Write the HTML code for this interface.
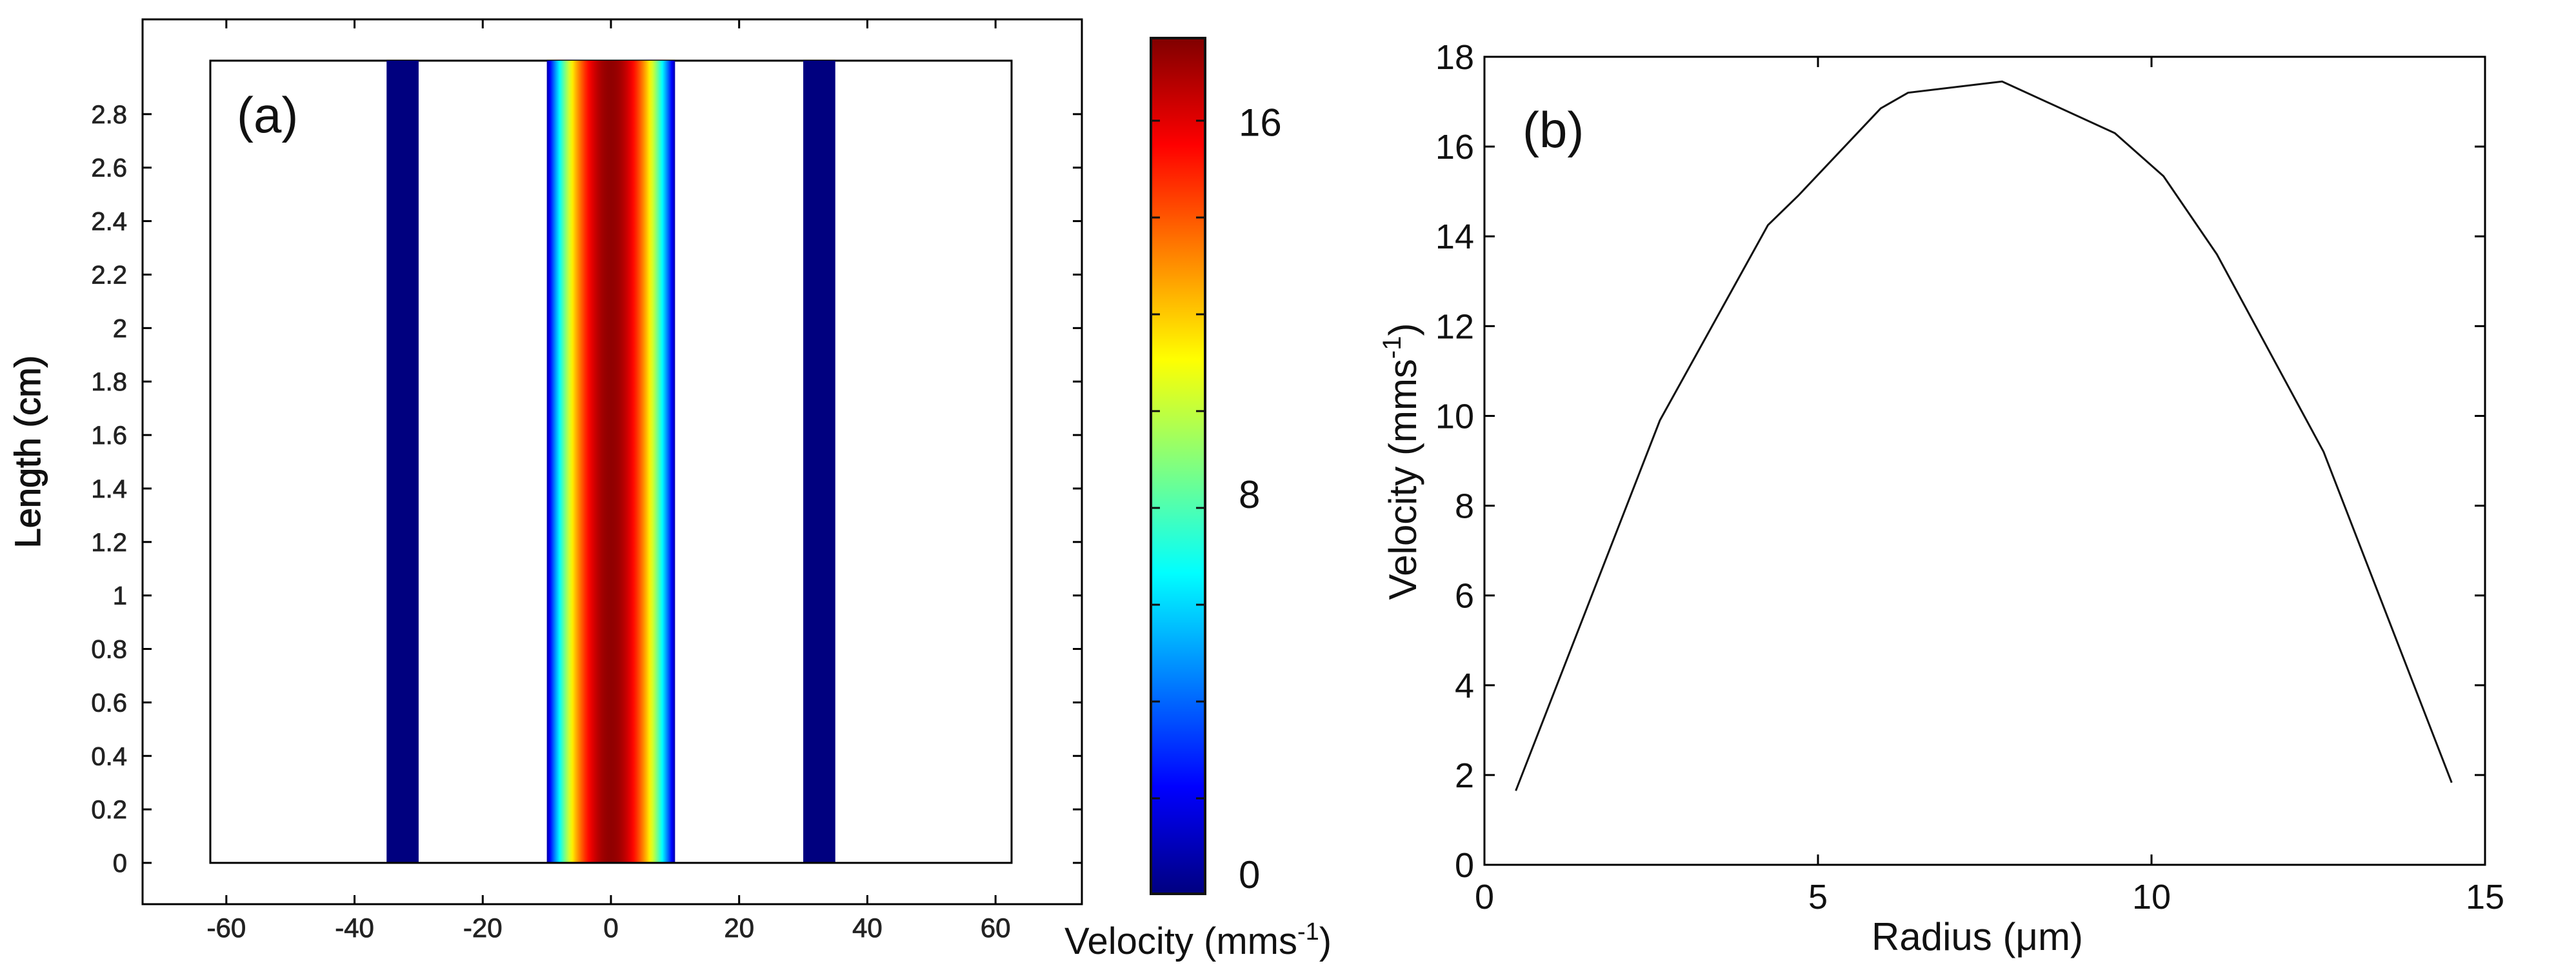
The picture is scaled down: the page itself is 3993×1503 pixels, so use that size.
<!DOCTYPE html>
<html><head><meta charset="utf-8"><style>
html,body{margin:0;padding:0;background:#fff;}
svg{display:block;font-family:"Liberation Sans",sans-serif;}
</style></head><body>
<svg id="fig" width="3993" height="1503" viewBox="0 0 3993 1503" xmlns="http://www.w3.org/2000/svg">
<defs>
<linearGradient id="flowGrad" x1="0" x2="1" y1="0" y2="0"></linearGradient>
<linearGradient id="cbarGrad" x1="0" x2="0" y1="1" y2="0"></linearGradient>
</defs>
<g id="panelA"></g>
<g id="panelB"></g>
</svg>
<script>
// ---- Panel (a) data ----
const aXTicks = [-60, -40, -20, 0, 20, 40, 60];
const aYTicks = [0, 0.2, 0.4, 0.6, 0.8, 1, 1.2, 1.4, 1.6, 1.8, 2, 2.2, 2.4, 2.6, 2.8];
const aDomainX = [-62.5, 62.5];
const aDomainY = [0, 3];
const wallLeft = [-35, -30];
const wallRight = [30, 35];
const channel = [-10, 10];
const peakVelocity = [17.5];
const cbarTicks = [0, 8, 16];
const cbarRange = [-0.6, 17.8];
// ---- Panel (b) data ----
const radius = [0.47, 2.63, 4.25, 4.7, 5.94, 6.35, 7.76, 9.45, 10.18, 10.98, 12.58, 14.5];
const velocity = [1.65, 9.9, 14.25, 14.9, 16.85, 17.2, 17.45, 16.3, 15.34, 13.6, 9.2, 1.83];
const bXTicks = [0, 5, 10, 15];
const bYTicks = [0, 2, 4, 6, 8, 10, 12, 14, 16, 18];

const NS = "http://www.w3.org/2000/svg";
function mk(parent, tag, attrs, text) {
  const e = document.createElementNS(NS, tag);
  for (const k in attrs) e.setAttribute(k, attrs[k]);
  if (text !== undefined) e.textContent = text;
  parent.appendChild(e);
  return e;
}
function jet(t) {
  t = Math.max(0, Math.min(1, t));
  const c = v => Math.round(255 * Math.max(0, Math.min(1, v)));
  const r = 1.5 - Math.abs(4 * t - 3), g = 1.5 - Math.abs(4 * t - 2), b = 1.5 - Math.abs(4 * t - 1);
  return `rgb(${c(r)},${c(g)},${c(b)})`;
}

// ===== Panel A =====
const A = document.getElementById('panelA');
const ax = v => 326 + (v - aDomainX[0]) / (aDomainX[1] - aDomainX[0]) * (1568 - 326);
const ay = v => 1337 - (v - aDomainY[0]) / (aDomainY[1] - aDomainY[0]) * (1337 - 94);
const frameA = {l: 221, r: 1677, t: 30, b: 1401};

let e = mk(A, 'rect', {x: frameA.l, y: frameA.t, width: frameA.r - frameA.l, height: frameA.b - frameA.t, fill: 'none', stroke: '#000', 'stroke-width': 3});



const fg = document.getElementById('flowGrad');
const cv = v => (v - cbarRange[0]) / (cbarRange[1] - cbarRange[0]);
for (let i = 0; i <= 40; i++) {
  const f = i / 40;
  const r = -1 + 2 * f;
  const vel = peakVelocity[0] * (1 - r * r);
  mk(fg, 'stop', {offset: f, 'stop-color': jet(cv(vel))});
}
const cg = document.getElementById('cbarGrad');
for (let i = 0; i <= 40; i++) mk(cg, 'stop', {offset: i / 40, 'stop-color': jet(i / 40)});

e = mk(A, 'rect', {x: ax(aDomainX[0]), y: ay(aDomainY[1]), width: ax(aDomainX[1]) - ax(aDomainX[0]), height: ay(0) - ay(aDomainY[1]), fill: '#fff', stroke: '#000', 'stroke-width': 3});



[[wallLeft, 'wall-left'], [wallRight, 'wall-right']].forEach(([w, n]) => {
  const r = mk(A, 'rect', {x: ax(w[0]), y: ay(aDomainY[1]), width: ax(w[1]) - ax(w[0]), height: ay(0) - ay(aDomainY[1]), fill: '#00007f'});
  
  
});
e = mk(A, 'rect', {x: ax(channel[0]), y: ay(aDomainY[1]), width: ax(channel[1]) - ax(channel[0]), height: ay(0) - ay(aDomainY[1]), fill: 'url(#flowGrad)'});


mk(A, 'line', {x1: ax(aDomainX[0]), x2: ax(aDomainX[1]), y1: ay(0), y2: ay(0), stroke: '#000', 'stroke-width': 3});

aXTicks.forEach(v => {
  const x = ax(v);
  mk(A, 'line', {x1: x, x2: x, y1: frameA.b, y2: frameA.b - 14, stroke: '#000', 'stroke-width': 3});
  mk(A, 'line', {x1: x, x2: x, y1: frameA.t, y2: frameA.t + 14, stroke: '#000', 'stroke-width': 3});
  const t = mk(A, 'text', {x: x, y: 1452, 'font-size': 42, 'text-anchor': 'middle', fill: '#222', stroke: '#222', 'stroke-width': 0.8}, String(v));
  
  
});
aYTicks.forEach(v => {
  const y = ay(v);
  mk(A, 'line', {x1: frameA.l, x2: frameA.l + 14, y1: y, y2: y, stroke: '#000', 'stroke-width': 3});
  mk(A, 'line', {x1: frameA.r, x2: frameA.r - 14, y1: y, y2: y, stroke: '#000', 'stroke-width': 3});
  const t = mk(A, 'text', {x: 197, y: y + 14, 'font-size': 40, 'text-anchor': 'end', fill: '#222', stroke: '#222', 'stroke-width': 0.8}, String(v));
  
  
});
e = mk(A, 'text', {x: 0, y: 0, 'font-size': 56, 'text-anchor': 'middle', transform: 'translate(62,700) rotate(-90)', fill: '#111', stroke: '#111', 'stroke-width': 1.2}, 'Length (cm)');


e = mk(A, 'text', {x: 367, y: 205, 'font-size': 78, fill: '#111'}, '(a)');



const cbx = 1784, cbw = 84, cbt = 59, cbb = 1385;
const cby = v => cbb - (v - cbarRange[0]) / (cbarRange[1] - cbarRange[0]) * (cbb - cbt);
e = mk(A, 'rect', {x: cbx, y: cbt, width: cbw, height: cbb - cbt, fill: 'url(#cbarGrad)', stroke: '#111', 'stroke-width': 4});


for (let y = 187; y < cbb - 20; y += 150) {
  mk(A, 'line', {x1: cbx, x2: cbx + 14, y1: y, y2: y, stroke: '#111', 'stroke-width': 3});
  mk(A, 'line', {x1: cbx + cbw, x2: cbx + cbw - 14, y1: y, y2: y, stroke: '#111', 'stroke-width': 3});
}
cbarTicks.forEach(v => {
  const t = mk(A, 'text', {x: 1920, y: cby(v) + 22 + (v === 0 ? 12 : 0), 'font-size': 60, fill: '#111'}, String(v));
  
  
});
e = mk(A, 'text', {x: 1650, y: 1478, 'font-size': 58, fill: '#111'});


e.innerHTML = 'Velocity (mms<tspan dy="-22" font-size="38">-1</tspan><tspan dy="22">)</tspan>';

// ===== Panel B =====
const B = document.getElementById('panelB');
const bl = 2301, br = 3852, bt = 88, bb = 1340;
const bx = v => bl + v / 15 * (br - bl);
const by = v => bb - v / 18 * (bb - bt);
e = mk(B, 'rect', {x: bl, y: bt, width: br - bl, height: bb - bt, fill: 'none', stroke: '#000', 'stroke-width': 3});


bXTicks.forEach(v => {
  const x = bx(v);
  mk(B, 'line', {x1: x, x2: x, y1: bb, y2: bb - 16, stroke: '#000', 'stroke-width': 3});
  mk(B, 'line', {x1: x, x2: x, y1: bt, y2: bt + 16, stroke: '#000', 'stroke-width': 3});
  const t = mk(B, 'text', {x: x, y: 1408, 'font-size': 54, 'text-anchor': 'middle', fill: '#111'}, String(v));
  
  
});
bYTicks.forEach(v => {
  const y = by(v);
  mk(B, 'line', {x1: bl, x2: bl + 16, y1: y, y2: y, stroke: '#000', 'stroke-width': 3});
  mk(B, 'line', {x1: br, x2: br - 16, y1: y, y2: y, stroke: '#000', 'stroke-width': 3});
  const t = mk(B, 'text', {x: 2285, y: y + 19, 'font-size': 54, 'text-anchor': 'end', fill: '#111'}, String(v));
  
  
});
e = mk(B, 'polyline', {points: radius.map((r, i) => bx(r) + ',' + by(velocity[i])).join(' '), fill: 'none', stroke: '#111', 'stroke-width': 3});


e = mk(B, 'text', {x: 3065, y: 1472, 'font-size': 60, 'text-anchor': 'middle', fill: '#111'}, 'Radius (μm)');


e = mk(B, 'text', {x: 0, y: 0, 'font-size': 60, 'text-anchor': 'middle', transform: 'translate(2195,715) rotate(-90)', fill: '#111'});


e.innerHTML = 'Velocity (mms<tspan dy="-24" font-size="40">-1</tspan><tspan dy="24">)</tspan>';
e = mk(B, 'text', {x: 2360, y: 228, 'font-size': 78, fill: '#111'}, '(b)');


</script>
</body></html>
